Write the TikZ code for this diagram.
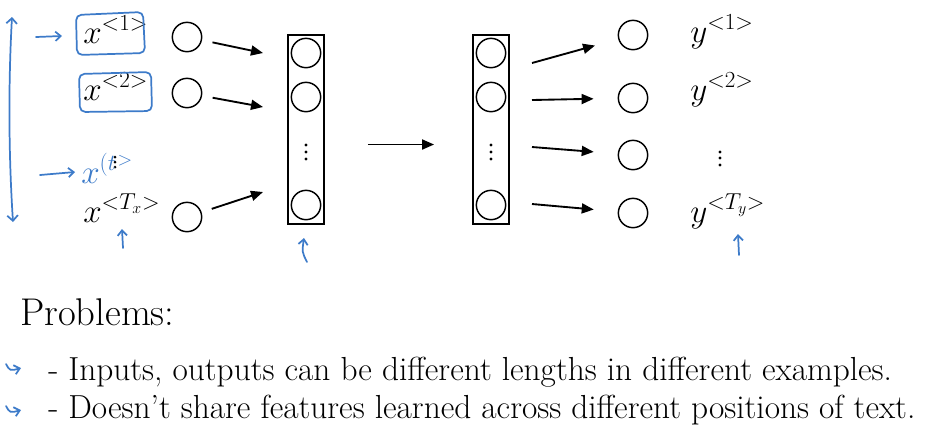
\documentclass[tikz,border=0pt]{standalone}
\usetikzlibrary{arrows.meta}

\definecolor{PenBlue}{HTML}{3D7BC9}

\begin{document}
\begin{tikzpicture}[x=0.75pt,y=-0.75pt,
    neuron/.style={circle,draw,line width=1.1pt,minimum size=22pt,inner sep=0pt},
    layerbox/.style={draw,line width=1.4pt,minimum width=27pt,minimum height=142pt,inner sep=0pt},
    feed/.style={-{Triangle[length=9pt,width=7.5pt]},line width=1.4pt},
    pen/.style={PenBlue,line width=1.3pt,line cap=round,line join=round},
    pentip/.style={pen,-{Straight Barb[length=4pt,width=7pt]}},
    seq/.style={inner sep=0pt,anchor=base west,font=\fontsize{25}{29}\selectfont},
    txt/.style={inner sep=0pt,anchor=base west,font=\fontsize{25}{29}\selectfont}]

  \useasboundingbox (0,0) rectangle (949,430);

  % ===== Parameters =====
  \def\inX{187}
  \def\encX{306}
  \def\decX{491}
  \def\outX{633}

  % ===== Inputs =====
  \foreach \y/\b/\n/\lbl in {37/43/1/1, 93/100/2/2, 217/222/4/T_x}{
    \node[neuron] (in\n) at (\inX,\y) {};
    \node[seq] (x\n) at (83,\b) {$x^{<\lbl>}$};
  }
  \foreach \y in {157,162,167}
    \fill (115,\y) circle (1.5);

  % ===== Encoder / decoder =====
  \node[layerbox] (enc) at (\encX,129.5) {};
  \node[layerbox] (dec) at (\decX,129.5) {};
  \foreach \y/\n in {53/1, 97/2, 205/4}{
    \node[neuron] (e\n) at (\encX,\y) {};
    \node[neuron] (d\n) at (\decX,\y) {};
  }
  \foreach \y in {145,152,159}{
    \fill (\encX,\y) circle (1.6);
    \fill (\decX,\y) circle (1.6);
  }

  % ===== Outputs =====
  \foreach \y/\n in {35/1, 98/2, 155/3, 213/4}
    \node[neuron] (o\n) at (\outX,\y) {};
  \foreach \b/\n/\lbl in {42/1/1, 100/2/2, 222/4/T_y}
    \node[seq] (y\n) at (690,\b) {$y^{<\lbl>}$};
  \foreach \y in {152,158,165}
    \fill (720,\y) circle (1.6);

  % ===== Arrows =====
  \foreach \y/\n in {53/1, 107/2, 192/4}{
    \coordinate (ea\n) at (263,\y);
    \draw[feed,shorten <=8pt] (in\n) -- (ea\n);
  }
  \draw[feed] ([shift={(43,15)}]enc.east) -- ([shift={(-38,15)}]dec.west);
  \foreach \y/\n in {63/1, 100/2, 147/3, 204/4}{
    \coordinate (da\n) at (532,\y);
    \draw[feed,shorten >=18pt] (da\n) -- (o\n);
  }

  % ===== Pen notes =====
  \draw[pen,{Straight Barb[length=4pt,width=8pt]}-{Straight Barb[length=4pt,width=8pt]}]
    (12,17) .. controls (8,90) and (9,160) .. (13,222);
  \draw[pentip] (36,37) -- (62,36);
  \draw[pentip] (40,175) -- (75,172);
  \draw[pen,rounded corners=4pt] (76,15) -- (143,12) -- (145,53) -- (77,55) -- cycle;
  \draw[pen,rounded corners=4pt] (79,74) -- (151,72) -- (152,111) -- (80,112) -- cycle;
  \node[seq,PenBlue] (xt) at (81,183) {$x^{(t}$};
  \node[PenBlue,inner sep=0pt,font=\fontsize{15}{17}\selectfont] (xtend) at (125,161) {$>$};
  \draw[pentip] (123,248) -- (122,229);
  \draw[pentip] (307,262) .. controls (302,252) .. (304,238);
  \draw[pentip] (739,255) -- (738,234);

  % ===== Problems =====
  \node[txt,font=\fontsize{29}{33}\selectfont] (title) at (20,325) {Problems:};
  \node[txt] (p1) at (48,380) {- Inputs, outputs can be different lengths in different examples.};
  \node[txt] (p2) at (48,418) {- Doesn't share features learned across different positions of text.};
  \draw[pentip] (6,364) .. controls (10,371) .. (21,368);
  \draw[pentip] (6,406) .. controls (10,413) .. (21,410);

\end{tikzpicture}
\end{document}
